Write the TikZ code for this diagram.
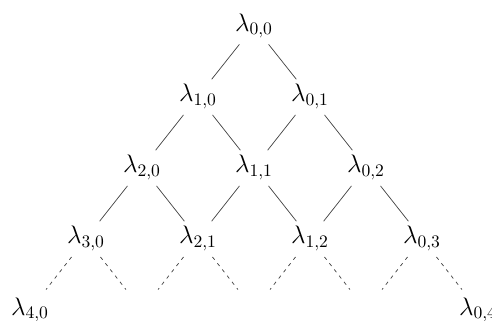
\documentclass[tikz,border=0pt]{standalone}
\begin{document}
\begin{tikzpicture}[
  lam/.style={font=\Large, inner sep=0pt},
  edge/.style={draw=black!75, line width=0.4pt, shorten <=0.47cm, shorten >=0.44cm},
  dedge/.style={edge, dash pattern=on 2pt off 2.5pt, shorten >=0.52cm}
]
\useasboundingbox (0,0) rectangle (9.84,6.4);
% row 0
\node[lam] (n00) at (5.08,5.88) {$\lambda_{0,0}$};
% row 1
\node[lam] (n10) at (3.96,4.47) {$\lambda_{1,0}$};
\node[lam] (n01) at (6.20,4.47) {$\lambda_{0,1}$};
% row 2
\node[lam] (n20) at (2.84,3.05) {$\lambda_{2,0}$};
\node[lam] (n11) at (5.08,3.05) {$\lambda_{1,1}$};
\node[lam] (n02) at (7.32,3.05) {$\lambda_{0,2}$};
% row 3
\node[lam] (n30) at (1.72,1.63) {$\lambda_{3,0}$};
\node[lam] (n21) at (3.96,1.63) {$\lambda_{2,1}$};
\node[lam] (n12) at (6.20,1.63) {$\lambda_{1,2}$};
\node[lam] (n03) at (8.44,1.63) {$\lambda_{0,3}$};
% row 4
\node[lam] (n40) at (0.60,0.20) {$\lambda_{4,0}$};
\coordinate (c31) at (2.84,0.20);
\coordinate (c22) at (5.08,0.20);
\coordinate (c13) at (7.32,0.20);
\node[lam] (n04) at (9.56,0.20) {$\lambda_{0,4}$};
% solid edges
\draw[edge] (n00.center) -- (n10.center);
\draw[edge] (n00.center) -- (n01.center);
\draw[edge] (n10.center) -- (n20.center);
\draw[edge] (n10.center) -- (n11.center);
\draw[edge] (n01.center) -- (n11.center);
\draw[edge] (n01.center) -- (n02.center);
\draw[edge] (n20.center) -- (n30.center);
\draw[edge] (n20.center) -- (n21.center);
\draw[edge] (n11.center) -- (n21.center);
\draw[edge] (n11.center) -- (n12.center);
\draw[edge] (n02.center) -- (n12.center);
\draw[edge] (n02.center) -- (n03.center);
% dashed edges
\draw[dedge] (n30.center) -- (n40.center);
\draw[dedge] (n30.center) -- (c31);
\draw[dedge] (n21.center) -- (c31);
\draw[dedge] (n21.center) -- (c22);
\draw[dedge] (n12.center) -- (c22);
\draw[dedge] (n12.center) -- (c13);
\draw[dedge] (n03.center) -- (c13);
\draw[dedge] (n03.center) -- (n04.center);
\end{tikzpicture}
\end{document}
